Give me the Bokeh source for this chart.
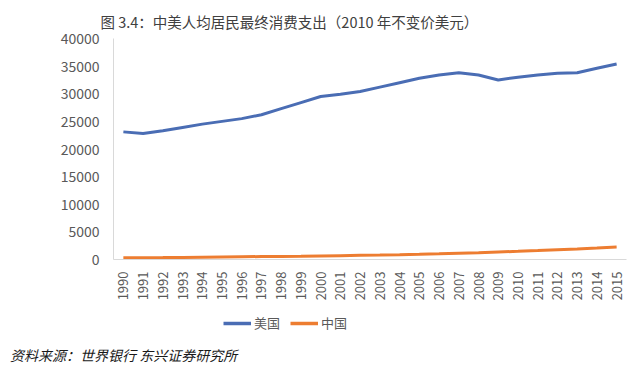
from bokeh.plotting import figure
from bokeh.models import Legend, LegendItem, Div, SingleIntervalTicker, Range1d, FactorRange
from bokeh.layouts import column
from bokeh.embed import file_html
from bokeh.resources import INLINE
from math import pi

years = [str(y) for y in range(1990, 2016)]
usa = [23100, 22800, 23300, 23900, 24500, 25000, 25500, 26200, 27300, 28400,
       29500, 29900, 30400, 31200, 32000, 32800, 33400, 33800, 33400, 32500,
       33000, 33400, 33700, 33800, 34600, 35400]
china = [300, 310, 340, 380, 420, 460, 500, 530, 560, 600,
         650, 700, 750, 800, 860, 930, 1020, 1130, 1240, 1360,
         1480, 1620, 1770, 1920, 2080, 2250]
series_names = ["美国", "中国"]
colors = ["#4a6db4", "#ed7d31"]

FONT = "Noto Sans CJK SC"
W = 635

p = figure(width=W, height=306, x_range=FactorRange(*years), y_range=Range1d(0, 40000),
           output_backend="svg", toolbar_location=None,
           title="图 3.4：中美人均居民最终消费支出（2010 年不变价美元）",
           min_border_left=113, min_border_right=9, min_border_top=38, min_border_bottom=47)
p.outline_line_color = None
p.background_fill_color = "white"
p.border_fill_color = "white"
p.grid.visible = False

p.title.align = "left"
p.title.offset = -13
p.title.text_font = FONT
p.title.text_font_style = "normal"
p.title.text_font_size = "14.5px"
p.title.text_color = "#404040"
p.title.standoff = 13

p.line(years, usa, line_color=colors[0], line_width=3)
p.line(years, china, line_color=colors[1], line_width=3)

p.yaxis.ticker = SingleIntervalTicker(interval=5000)
p.yaxis.formatter.use_scientific = False
for ax in (p.xaxis[0], p.yaxis[0]):
    ax.major_tick_line_color = None
    ax.minor_tick_line_color = None
    ax.axis_line_color = "#d9d9d9"
    ax.major_label_text_color = "#595959"
    ax.major_label_text_font = FONT
p.yaxis.major_label_text_font_size = "14px"
p.xaxis.major_label_text_font_size = "13px"
p.xaxis.major_label_orientation = pi / 2
p.xaxis.major_label_standoff = 6
p.yaxis.major_label_standoff = 8

# footer: legend
p2 = figure(width=W, height=38, x_range=Range1d(0, 1), y_range=Range1d(0, 1),
            output_backend="svg", toolbar_location=None,
            min_border_left=113, min_border_right=9, min_border_top=0, min_border_bottom=0)
p2.axis.visible = False
p2.grid.visible = False
p2.outline_line_color = None
d1 = p2.line([-10, -9], [-10, -9], line_color=colors[0], line_width=3.5)
d2 = p2.line([-10, -9], [-10, -9], line_color=colors[1], line_width=3.5)

legend = Legend(items=[LegendItem(label=series_names[0], renderers=[d1]),
                       LegendItem(label=series_names[1], renderers=[d2])],
                orientation="horizontal", location=(110, 12),
                label_text_font=FONT, label_text_font_size="13px", label_text_color="#595959",
                glyph_width=28, glyph_height=10, spacing=10, padding=4, margin=0,
                label_standoff=3, border_line_color=None, background_fill_alpha=0)
p2.add_layout(legend, "center")

src = Div(text="资料来源：世界银行 东兴证券研究所", width=W, height=22, margin=(0, 0, 0, 0),
          styles={"font-family": FONT, "font-style": "italic", "font-size": "14px",
                  "color": "#1a1a1a", "line-height": "22px", "padding-left": "10px",
                  "white-space": "nowrap"})

layout = column(p, p2, src, spacing=0)
open("out.html", "w").write(file_html(layout, INLINE))
